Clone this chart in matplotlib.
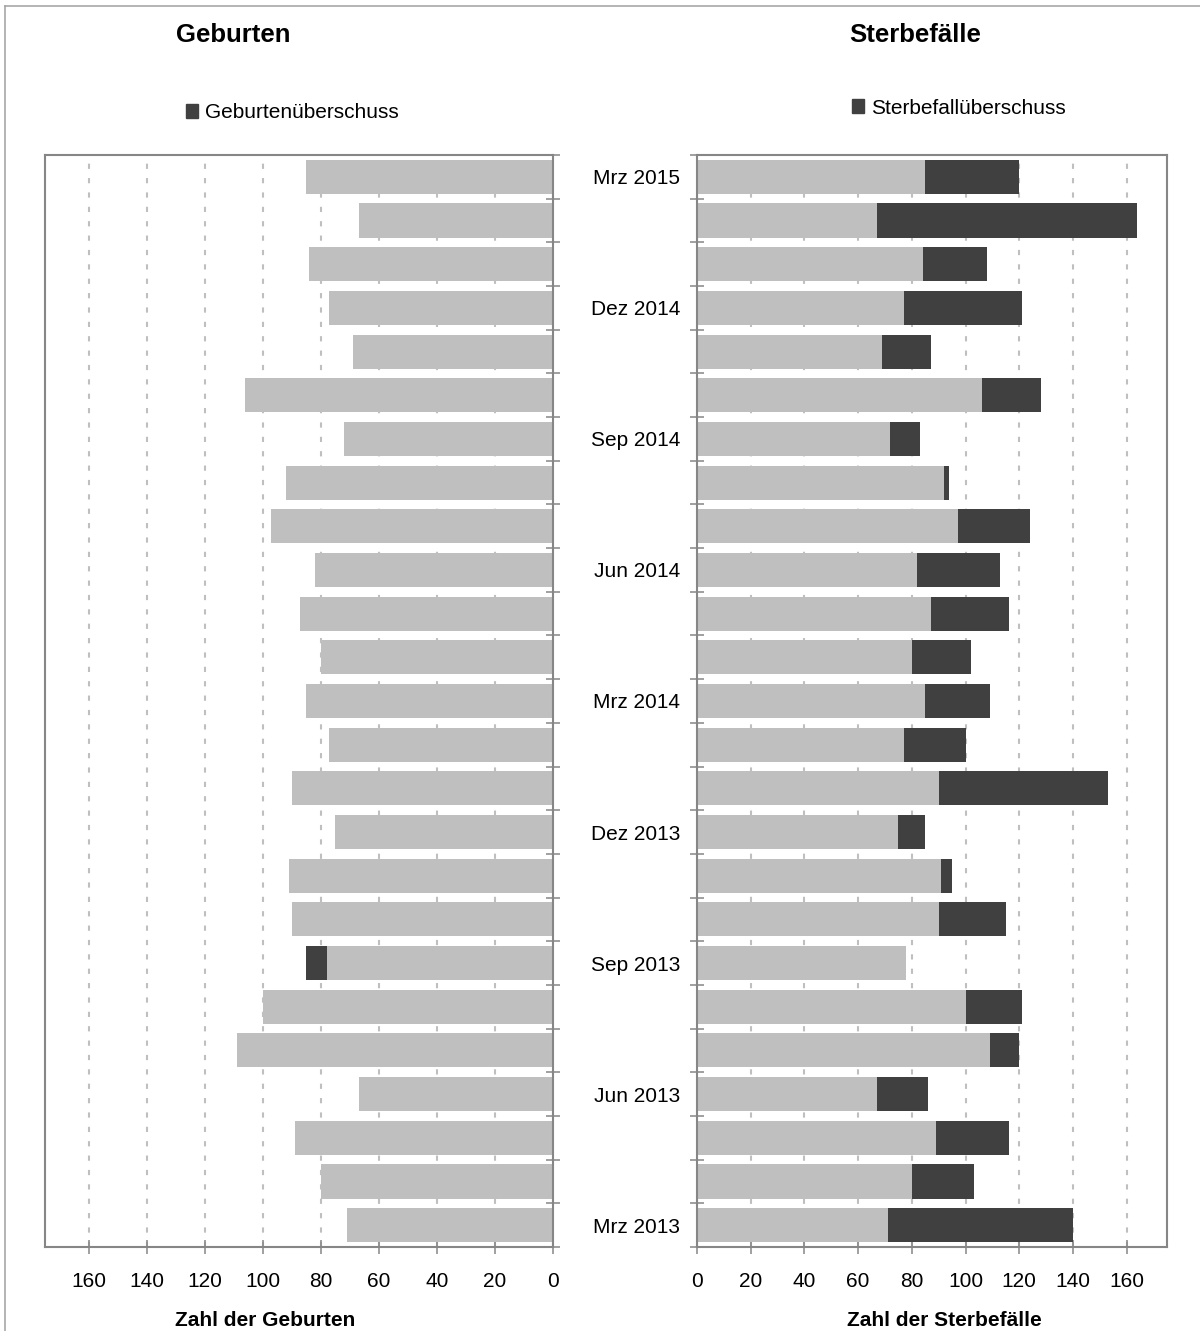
import numpy as np
import matplotlib.pyplot as plt
from matplotlib.patches import Patch
from matplotlib.lines import Line2D

plt.rcParams['font.family'] = ['Liberation Sans', 'DejaVu Sans']

# Monatswerte, chronologisch (Mrz 2013 .. Mrz 2015)
months = ["Mrz 2013", "Apr 2013", "Mai 2013", "Jun 2013", "Jul 2013", "Aug 2013",
          "Sep 2013", "Okt 2013", "Nov 2013", "Dez 2013", "Jan 2014", "Feb 2014",
          "Mrz 2014", "Apr 2014", "Mai 2014", "Jun 2014", "Jul 2014", "Aug 2014",
          "Sep 2014", "Okt 2014", "Nov 2014", "Dez 2014", "Jan 2015", "Feb 2015",
          "Mrz 2015"]
births = [71, 80, 89, 67, 109, 100, 85, 90, 91, 75, 90, 77, 85,
          80, 87, 82, 97, 92, 72, 106, 69, 77, 84, 67, 85]
deaths = [140, 103, 116, 86, 120, 121, 78, 115, 95, 85, 153, 100, 109,
          102, 116, 113, 124, 94, 83, 128, 87, 121, 108, 164, 120]

LIGHT = "#BFBFBF"
DARK = "#404040"
AXIS = "#868686"
W, H = 1200, 1331

births = np.array(births)
deaths = np.array(deaths)
common = np.minimum(births, deaths)
birth_surplus = np.clip(births - deaths, 0, None)
death_surplus = np.clip(deaths - births, 0, None)
y = np.arange(len(months))

fig = plt.figure(figsize=(W / 100, H / 100), dpi=100)
ax_l = fig.add_axes([45 / W, 1 - 1247 / H, 508 / W, 1092 / H])
ax_r = fig.add_axes([697 / W, 1 - 1247 / H, 470 / W, 1092 / H])

ax_l.barh(y, common, height=0.78, color=LIGHT, zorder=2)
ax_l.barh(y, birth_surplus, left=common, height=0.78, color=DARK, zorder=2)
ax_r.barh(y, common, height=0.78, color=LIGHT, zorder=2)
ax_r.barh(y, death_surplus, left=common, height=0.78, color=DARK, zorder=2)

ax_l.set_xlim(175, 0)
ax_r.set_xlim(0, 175)

for ax in (ax_l, ax_r):
    ax.set_ylim(-0.5, len(months) - 0.5)
    ax.set_xticks(np.arange(0, 161, 20))
    ax.set_yticks(np.arange(-0.5, len(months)), [])
    ax.grid(axis='x', color=LIGHT, linewidth=1.5, dashes=(2.5, 4.4), zorder=1)
    ax.set_axisbelow(True)
    for sp in ax.spines.values():
        sp.set_color(AXIS)
        sp.set_linewidth(1.5)
        sp.set_zorder(3)
    ax.tick_params(which='major', direction='inout', length=9.4, width=1.1,
                   color=AXIS, labelsize=15, pad=13)

ax_l.yaxis.tick_right()
ax_r.set_yticks(y[::3], [months[i] for i in y[::3]], minor=True)
ax_r.tick_params(axis='y', which='minor', length=0, pad=12, labelsize=15)

# Titel, Legenden, Achsentitel
fig.text(233 / W, 1 - 35 / H, "Geburten", ha='center', va='center',
         fontsize=18.5, fontweight='bold')
fig.text(915 / W, 1 - 35 / H, "Sterbefälle", ha='center', va='center',
         fontsize=18.5, fontweight='bold')
fig.text(265 / W, 1 - 1320 / H, "Zahl der Geburten", ha='center', va='center',
         fontsize=15, fontweight='bold')
fig.text(944.5 / W, 1 - 1320 / H, "Zahl der Sterbefälle", ha='center', va='center',
         fontsize=15, fontweight='bold')

for label, cx, cy in [("Geburtenüberschuss", 292, 113),
                      ("Sterbefallüberschuss", 958.5, 108)]:
    fig.legend(handles=[Patch(color=DARK, label=label)], loc='center',
               bbox_to_anchor=(cx / W, 1 - cy / H), frameon=False, fontsize=15,
               handlelength=0.62, handleheight=0.62, handletextpad=0.3,
               borderpad=0, borderaxespad=0)

# Rahmen um die Grafik (oben und links sichtbar)
fig.add_artist(Line2D([5 / W, 1], [1 - 6 / H, 1 - 6 / H], color="#A0A0A0", lw=1.1))
fig.add_artist(Line2D([5 / W, 5 / W], [0, 1 - 6 / H], color="#A0A0A0", lw=1.1))

fig.savefig("out.png", dpi=100)
